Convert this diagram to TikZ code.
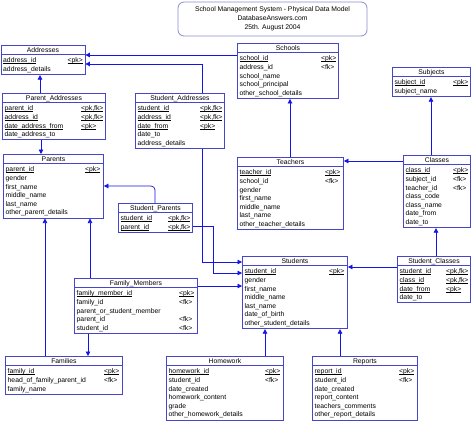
\documentclass[tikz,border=0pt]{standalone}
\usepackage{fontspec}
\setmainfont{Liberation Sans}
\usetikzlibrary{arrows.meta}
\definecolor{boxc}{RGB}{70,70,200}
\definecolor{linec}{RGB}{20,20,230}
\definecolor{titlec}{RGB}{140,140,210}
\newcommand\ul[1]{{\setbox0\hbox{#1}\rlap{\rule[-1pt]{\wd0}{0.45pt}}\box0}}
\tikzset{
 ebox/.style={draw=boxc, line width=0.9pt, inner sep=0pt, anchor=north west},
 hline/.style={draw=boxc, line width=0.6pt},
 etitle/.style={font=\fontsize{6.8}{8}\selectfont, inner sep=0pt},
 etext/.style={font=\fontsize{6.8}{8}\selectfont, inner sep=0pt, anchor=base west},
 conn/.style={draw=linec, line width=0.7pt, -{Triangle[length=4.5pt,width=4.5pt]}},
}
\def\kx{17pt}
\newcommand\ent[6]{%
 \node[ebox, minimum width=#4pt, minimum height={12pt+8.6pt*#5}] (#1) at (#2,#3) {};
 \draw[hline] ([yshift=-9.5pt]#1.north west) -- ([yshift=-9.5pt]#1.north east);
 \node[etitle, anchor=base] (#1-t) at ([yshift=-7.1pt]#1.north) {#6};
}
\newcommand\erow[4]{%
 \node[etext] (#1-r#2) at ([xshift=2.5pt,yshift={-17.9pt-8.6pt*(#2-1)}]#1.north west) {#3};
 \node[etext] (#1-k#2) at ([xshift=-\kx,yshift={-17.9pt-8.6pt*(#2-1)}]#1.north east) {#4};
}
\begin{document}
\begin{tikzpicture}[x=1pt,y=-1pt]
\useasboundingbox (0,0) rectangle (474,423);
\fill[white] (0,0) rectangle (474,423);
% title
\node[draw=titlec, line width=0.8pt, rounded corners=6pt, minimum width=189pt, minimum height=34pt, align=center, inner sep=0pt, font=\fontsize{6.8}{9}\selectfont] (title) at (272.5,19) {School Management System - Physical Data Model\\DatabaseAnswers.com\\25th. August 2004};
% Addresses
\def\kx{18pt}
\ent{Addresses}{0.5}{45}{84}{2}{Addresses}
\erow{Addresses}{1}{\ul{address\_id}}{\ul{<pk>}}
\erow{Addresses}{2}{address\_details}{}
% Schools
\def\kx{18pt}
\ent{Schools}{237}{43}{101}{5}{Schools}
\erow{Schools}{1}{\ul{school\_id}}{\ul{<pk>}}
\erow{Schools}{2}{address\_id}{<fk>}
\erow{Schools}{3}{school\_name}{}
\erow{Schools}{4}{school\_principal}{}
\erow{Schools}{5}{other\_school\_details}{}
% Subjects
\def\kx{18pt}
\ent{Subjects}{392}{67}{78}{2}{Subjects}
\erow{Subjects}{1}{\ul{subject\_id}}{\ul{<pk>}}
\erow{Subjects}{2}{subject\_name}{}
% Parent_Addresses
\def\kx{25pt}
\ent{Parent_Addresses}{2}{93}{103}{4}{Parent\_Addresses}
\erow{Parent_Addresses}{1}{\ul{parent\_id}}{\ul{<pk,fk>}}
\erow{Parent_Addresses}{2}{\ul{address\_id}}{\ul{<pk,fk>}}
\erow{Parent_Addresses}{3}{\ul{date\_address\_from}}{\ul{<pk>}}
\erow{Parent_Addresses}{4}{date\_address\_to}{}
% Student_Addresses
\def\kx{25pt}
\ent{Student_Addresses}{135}{93}{89}{5}{Student\_Addresses}
\erow{Student_Addresses}{1}{\ul{student\_id}}{\ul{<pk,fk>}}
\erow{Student_Addresses}{2}{\ul{address\_id}}{\ul{<pk,fk>}}
\erow{Student_Addresses}{3}{\ul{date\_from}}{\ul{<pk>}}
\erow{Student_Addresses}{4}{date\_to}{}
\erow{Student_Addresses}{5}{address\_details}{}
% Parents
\def\kx{19pt}
\ent{Parents}{3}{154}{100}{6}{Parents}
\erow{Parents}{1}{\ul{parent\_id}}{\ul{<pk>}}
\erow{Parents}{2}{gender}{}
\erow{Parents}{3}{first\_name}{}
\erow{Parents}{4}{middle\_name}{}
\erow{Parents}{5}{last\_name}{}
\erow{Parents}{6}{other\_parent\_details}{}
% Teachers
\def\kx{19pt}
\ent{Teachers}{237}{157}{106}{7}{Teachers}
\erow{Teachers}{1}{\ul{teacher\_id}}{\ul{<pk>}}
\erow{Teachers}{2}{school\_id}{<fk>}
\erow{Teachers}{3}{gender}{}
\erow{Teachers}{4}{first\_name}{}
\erow{Teachers}{5}{middle\_name}{}
\erow{Teachers}{6}{last\_name}{}
\erow{Teachers}{7}{other\_teacher\_details}{}
% Classes
\def\kx{18pt}
\ent{Classes}{403}{155}{67}{7}{Classes}
\erow{Classes}{1}{\ul{class\_id}}{\ul{<pk>}}
\erow{Classes}{2}{subject\_id}{<fk>}
\erow{Classes}{3}{teacher\_id}{<fk>}
\erow{Classes}{4}{class\_code}{}
\erow{Classes}{5}{class\_name}{}
\erow{Classes}{6}{date\_from}{}
\erow{Classes}{7}{date\_to}{}
% Student_Parents
\def\kx{25pt}
\ent{Student_Parents}{118}{203}{74}{2}{Student\_Parents}
\erow{Student_Parents}{1}{\ul{student\_id}}{\ul{<pk,fk>}}
\erow{Student_Parents}{2}{\ul{parent\_id}}{\ul{<pk,fk>}}
% Students
\def\kx{19pt}
\ent{Students}{242}{256}{105}{7}{Students}
\erow{Students}{1}{\ul{student\_id}}{\ul{<pk>}}
\erow{Students}{2}{gender}{}
\erow{Students}{3}{first\_name}{}
\erow{Students}{4}{middle\_name}{}
\erow{Students}{5}{last\_name}{}
\erow{Students}{6}{date\_of\_birth}{}
\erow{Students}{7}{other\_student\_details}{}
% Student_Classes
\def\kx{25pt}
\ent{Student_Classes}{397}{256}{73}{4}{Student\_Classes}
\erow{Student_Classes}{1}{\ul{student\_id}}{\ul{<pk,fk>}}
\erow{Student_Classes}{2}{\ul{class\_id}}{\ul{<pk,fk>}}
\erow{Student_Classes}{3}{\ul{date\_from}}{\ul{<pk>}}
\erow{Student_Classes}{4}{date\_to}{}
% Family_Members
\def\kx{19pt}
\ent{Family_Members}{74}{278}{123}{5}{Family\_Members}
\erow{Family_Members}{1}{\ul{family\_member\_id}}{\ul{<pk>}}
\erow{Family_Members}{2}{family\_id}{<fk>}
\erow{Family_Members}{3}{parent\_or\_student\_member}{}
\erow{Family_Members}{4}{parent\_id}{<fk>}
\erow{Family_Members}{5}{student\_id}{<fk>}
% Families
\def\kx{19pt}
\ent{Families}{5}{356}{117}{3}{Families}
\erow{Families}{1}{\ul{family\_id}}{\ul{<pk>}}
\erow{Families}{2}{head\_of\_family\_parent\_id}{<fk>}
\erow{Families}{3}{family\_name}{}
% Homework
\def\kx{19pt}
\ent{Homework}{166}{356}{117}{6}{Homework}
\erow{Homework}{1}{\ul{homework\_id}}{\ul{<pk>}}
\erow{Homework}{2}{student\_id}{<fk>}
\erow{Homework}{3}{date\_created}{}
\erow{Homework}{4}{homework\_content}{}
\erow{Homework}{5}{grade}{}
\erow{Homework}{6}{other\_homework\_details}{}
% Reports
\def\kx{19pt}
\ent{Reports}{312}{356}{105}{6}{Reports}
\erow{Reports}{1}{\ul{report\_id}}{\ul{<pk>}}
\erow{Reports}{2}{student\_id}{<fk>}
\erow{Reports}{3}{date\_created}{}
\erow{Reports}{4}{report\_content}{}
\erow{Reports}{5}{teachers\_comments}{}
\erow{Reports}{6}{other\_report\_details}{}
% connectors
\draw[conn] (Schools.west |- 0,55) -- (Addresses.east |- 0,55);
\draw[conn] (Student_Addresses.north -| 202,0) |- (Addresses.east |- 0,64);
\draw[conn] (Parent_Addresses.north -| 40,0) -- (Addresses.south -| 40,0);
\draw[conn] (Parent_Addresses.south -| 41,0) -- (Parents.north -| 41,0);
\draw[conn] (Student_Addresses.south -| 202,0) |- (Students.west |- 0,262);
\draw[conn, rounded corners=4pt] (Student_Parents.north -| 155,0) |- (Parents.east |- 0,186);
\draw[conn] (Student_Parents.east |- 0,226) -- ++(20,0) |- (Students.west |- 0,273);
\draw[conn] (Family_Members.east |- 0,286) -- (Students.west |- 0,286);
\draw[conn] (Family_Members.north -| 90,0) -- (Parents.south -| 90,0);
\draw[conn] (Families.north -| 45,0) -- (Parents.south -| 45,0);
\draw[conn] (Family_Members.south -| 88,0) -- (Families.north -| 88,0);
\draw[conn] (Teachers.north -| 290,0) -- (Schools.south -| 290,0);
\draw[conn] (Classes.west |- 0,161) -- (Teachers.east |- 0,161);
\draw[conn] (Classes.north -| 431,0) -- (Subjects.south -| 431,0);
\draw[conn] (Student_Classes.north -| 436,0) -- (Classes.south -| 436,0);
\draw[conn] (Student_Classes.west |- 0,267) -- (Students.east |- 0,267);
\draw[conn] (Homework.north -| 265,0) -- (Students.south -| 265,0);
\draw[conn] (Reports.north -| 340,0) -- (Students.south -| 340,0);
\end{tikzpicture}
\end{document}
